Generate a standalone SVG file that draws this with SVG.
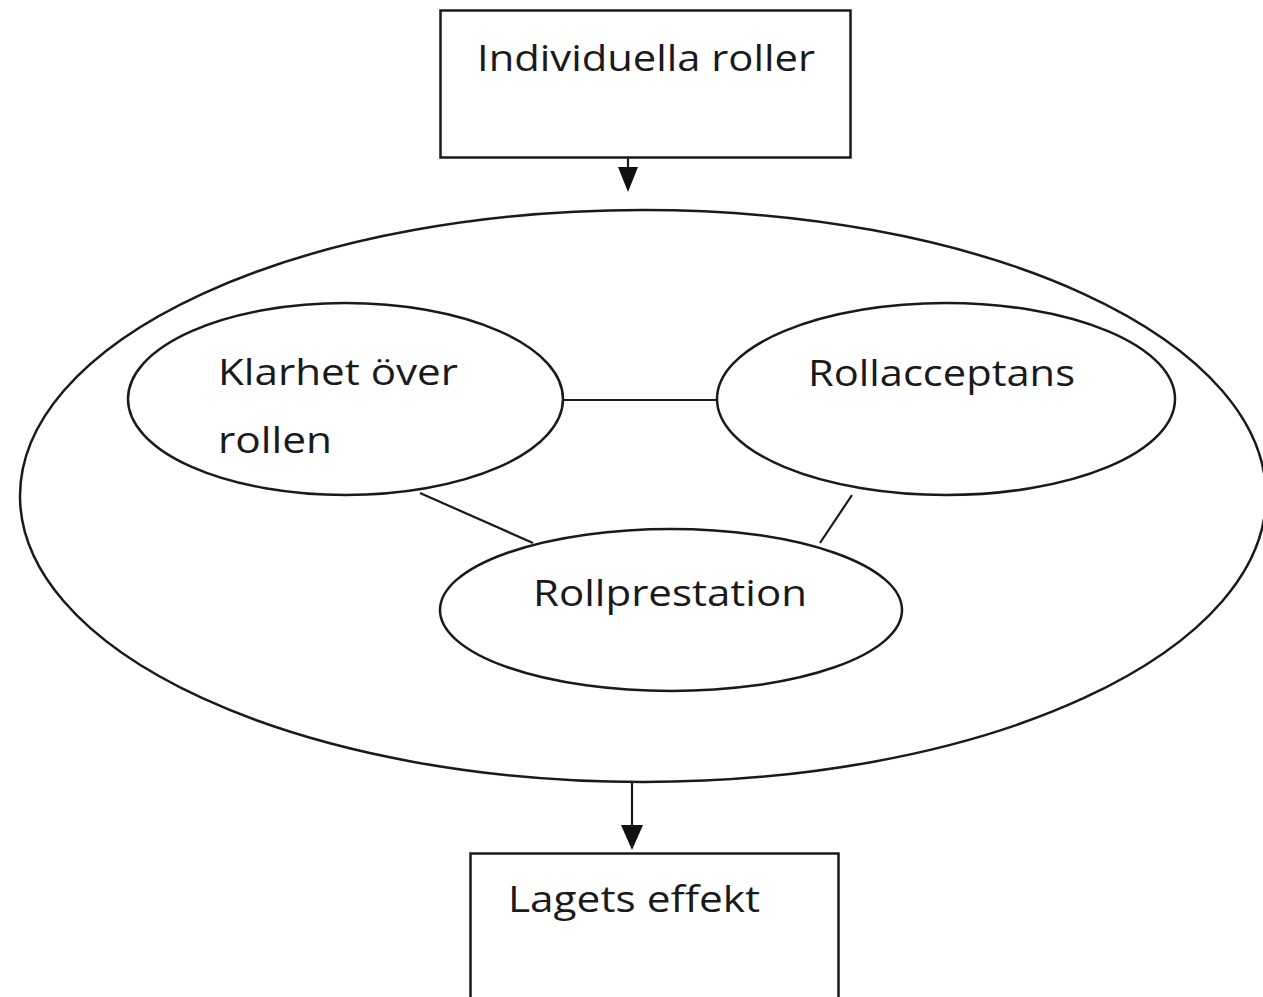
<svg xmlns="http://www.w3.org/2000/svg" width="1263" height="997" viewBox="0 0 1263 997">
<style>
.shape{fill:none;stroke:#1a1a1a;stroke-width:2.5}
.conn{fill:none;stroke:#1a1a1a;stroke-width:2.2}
.head{fill:#111;stroke:none}
.lbl{font-family:"Open Sans","DejaVu Sans",sans-serif;font-size:37px;fill:#1a1a1a}
</style>
<rect width="1263" height="997" fill="#ffffff"/>
<g id="outer">
<ellipse class="shape" cx="643" cy="496" rx="623" ry="286"/>
</g>
<g id="individuella-roller">
<rect class="shape" x="440.5" y="10.5" width="410" height="147"/>
<text class="lbl" x="477" y="71" textLength="338" lengthAdjust="spacingAndGlyphs">Individuella roller</text>
</g>
<g id="klarhet">
<ellipse class="shape" cx="345.5" cy="399" rx="217.5" ry="96"/>
<text class="lbl" x="218" y="385" textLength="240" lengthAdjust="spacingAndGlyphs">Klarhet över</text>
<text class="lbl" x="218" y="453" textLength="114" lengthAdjust="spacingAndGlyphs">rollen</text>
</g>
<g id="rollacceptans">
<ellipse class="shape" cx="946" cy="399" rx="229" ry="96"/>
<text class="lbl" x="808" y="386" textLength="267" lengthAdjust="spacingAndGlyphs">Rollacceptans</text>
</g>
<g id="rollprestation">
<ellipse class="shape" cx="671" cy="610" rx="231" ry="81"/>
<text class="lbl" x="533" y="606" textLength="274" lengthAdjust="spacingAndGlyphs">Rollprestation</text>
</g>
<g id="lagets-effekt">
<path class="shape" d="M470.5,997 L470.5,853.5 L838.5,853.5 L838.5,997"/>
<text class="lbl" x="508" y="912" textLength="252" lengthAdjust="spacingAndGlyphs">Lagets effekt</text>
</g>
<g id="connectors">
<line class="conn" x1="628" y1="158" x2="628" y2="170"/>
<polygon class="head" points="618,167 638,167 628,192"/>
<line class="conn" x1="632" y1="783" x2="632" y2="828"/>
<polygon class="head" points="621,825 643,825 632,850"/>
<line class="conn" x1="563" y1="400" x2="717" y2="400"/>
<line class="conn" x1="420" y1="493" x2="533" y2="543"/>
<line class="conn" x1="852" y1="495" x2="820" y2="543"/>
</g>
</svg>
